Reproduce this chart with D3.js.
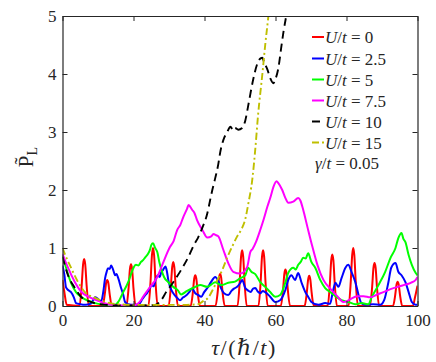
<!DOCTYPE html>
<html><head><meta charset="utf-8">
<script src="https://cdn.jsdelivr.net/npm/d3@7"></script>
<style>
body{margin:0;background:#fff}
svg{display:block}
svg text{font-family:"Liberation Serif","DejaVu Serif","Times New Roman",Times,serif !important;fill:#262626}
</style>
</head><body>
<svg id="c" width="436" height="362"></svg>
<script>
const xTicks = [0, 20, 40, 60, 80, 100];
const yTicks = [0, 1, 2, 3, 4, 5];
const legendValues = ["0", "2.5", "5", "7.5", "10", "15"];
const gammaLabel = "0.05";

// U/t = 0 (red)
const red = [[0,0.45],[0.5,0.25],[1.2,0.02],[4.8,0],[5.4,0.35],[5.8,0.72],[6.1,0.81],[6.4,0.72],[6.8,0.35],[7.4,0],
[11.3,0],[11.9,0.2],[12.3,0.4],[12.6,0.45],[12.9,0.4],[13.3,0.2],[13.9,0],
[18.0,0],[18.6,0.3],[19.0,0.64],[19.3,0.72],[19.6,0.64],[20.0,0.3],[20.6,0],
[24.2,0],[24.8,0.42],[25.2,0.88],[25.5,1.0],[25.8,0.88],[26.2,0.42],[26.8,0],
[29.9,0],[30.5,0.32],[30.9,0.67],[31.2,0.76],[31.5,0.67],[31.9,0.32],[32.5,0],
[36.1,0],[36.7,0.22],[37.1,0.47],[37.4,0.53],[37.7,0.47],[38.1,0.22],[38.7,0],
[43.1,0],[43.7,0.23],[44.1,0.49],[44.4,0.55],[44.7,0.49],[45.1,0.23],[45.7,0],
[49.3,0],[49.9,0.4],[50.3,0.85],[50.6,0.96],[50.9,0.85],[51.3,0.4],[51.9,0],
[55.2,0],[55.8,0.4],[56.2,0.85],[56.5,0.96],[56.8,0.85],[57.2,0.4],[57.8,0],
[61.5,0],[62.1,0.26],[62.5,0.56],[62.8,0.63],[63.1,0.56],[63.5,0.26],[64.1,0],
[68.2,0],[68.8,0.22],[69.2,0.46],[69.5,0.52],[69.8,0.46],[70.2,0.22],[70.8,0],
[74.7,0],[75.3,0.37],[75.7,0.79],[76.0,0.89],[76.3,0.79],[76.7,0.37],[77.3,0],
[80.6,0],[81.2,0.42],[81.6,0.88],[81.9,1.0],[82.2,0.88],[82.6,0.42],[83.2,0],
[86.6,0],[87.2,0.31],[87.6,0.66],[87.9,0.74],[88.2,0.66],[88.6,0.31],[89.2,0],
[93.1,0],[93.7,0.18],[94.1,0.37],[94.4,0.42],[94.7,0.37],[95.1,0.18],[95.7,0],
[98.7,0],[99.3,0.15],[100,0.35]];

// U/t = 2.5 (blue)
const blue = [[0,0.7],[0.5,0.55],[1.0,0.32],[1.7,0.27],[2.4,0.24],[3.2,0.15],[3.8,0.05],[5,0.03],[6.5,0.02],[8,0.04],[9.2,0.15],[10,0.12],[10.9,0.08],
[11.5,0.25],[12,0.48],[12.4,0.58],[12.8,0.65],[13.3,0.64],[13.7,0.7],[14.3,0.62],[14.8,0.53],[15.2,0.55],[15.7,0.48],[16.5,0.31],[17.1,0.2],[17.6,0.07],[18.5,0.03],[20,0.02],[21.5,0.03],
[22.5,0.12],[23.2,0.18],[23.8,0.22],[24.5,0.3],[25.2,0.36],[25.7,0.34],[26.2,0.45],[26.9,0.53],[27.4,0.5],[27.8,0.58],[28.3,0.62],[29.0,0.68],[29.4,0.6],[29.8,0.45],[30.3,0.33],
[31.2,0.22],[32.3,0.14],[33.1,0.1],[34.0,0.15],[34.8,0.18],[35.7,0.24],[36.5,0.3],[37.4,0.22],[38.2,0.19],[39.1,0.16],[39.9,0.24],[40.8,0.31],
[41.9,0.42],[43.0,0.5],[43.9,0.43],[44.7,0.3],[45.5,0.22],[46.7,0.19],[47.6,0.26],[48.3,0.3],[49.2,0.33],[50.1,0.4],[50.6,0.45],[51.5,0.31],
[52.2,0.27],[53.0,0.24],[53.7,0.3],[54.3,0.31],[55.0,0.25],[55.7,0.22],[56.4,0.26],[57.1,0.24],[58.5,0.16],[59.9,0.07],[61.3,0.1],[62.8,0.28],[63.6,0.45],[64.5,0.53],[65.5,0.45],[66.4,0.57],
[67.3,0.41],[68.4,0.24],[69.2,0.16],[70.1,0.07],[72.1,0.02],[74.0,0.05],[75.4,0.04],[76.0,0.2],[76.9,0.4],[77.7,0.33],[78.6,0.48],[79.7,0.66],
[80.5,0.71],[81.4,0.59],[82.5,0.41],[83.4,0.19],[84.2,0.05],[85.5,0.02],[87.5,0.03],[89.5,0.02],[90.6,0.1],[91.8,0.41],[92.6,0.66],[93.8,0.74],
[94.6,0.59],[95.5,0.53],[96.6,0.41],[97.5,0.24],[98.4,0.07],[99.5,0.02],[100,0.02]];

// U/t = 5 (green)
const green = [[0,0.88],[1.0,0.66],[2.4,0.4],[3.8,0.24],[5.2,0.16],[7.2,0.09],[9.2,0.05],[12,0.02],[14.8,0.02],[15.7,0.07],[17.1,0.24],[18.5,0.41],
[19.3,0.55],[20.0,0.66],[20.7,0.71],[21.4,0.7],[22.1,0.76],[22.7,0.79],[23.3,0.84],[24.1,0.9],[24.7,0.98],[25.0,1.05],[25.5,1.08],[26.1,1.0],[26.7,0.93],[27.3,0.75],[28.0,0.6],
[28.6,0.5],[29.8,0.41],[31.2,0.33],[32.5,0.27],[33.4,0.2],[35.1,0.26],[36.8,0.31],[38.8,0.36],[40.8,0.33],[43.0,0.41],[44.7,0.36],[46.7,0.4],
[48.6,0.42],[50.1,0.48],[51.5,0.53],[52.3,0.66],[53.2,0.59],[54.3,0.55],[55.7,0.41],[57.1,0.33],[58.5,0.24],[59.9,0.16],[61.3,0.19],[62.8,0.41],
[63.6,0.57],[65.0,0.66],[65.7,0.63],[66.4,0.71],[67.1,0.76],[67.8,0.83],[68.5,0.82],[69.2,0.91],[70.1,0.76],[71.2,0.66],[72.6,0.45],[74.0,0.31],[75.4,0.24],[76.9,0.17],[78.6,0.1],
[80.5,0.07],[82.5,0.03],[84.2,0.05],[86.2,0.03],[87.0,0.14],[89.0,0.36],[90.9,0.59],[92.4,0.83],[93.8,1.0],[94.6,1.17],[95.5,1.26],[96.0,1.16],[96.6,1.1],
[97.5,0.88],[98.4,0.71],[99.5,0.57],[100,0.53]];

// U/t = 7.5 (magenta)
const magenta = [[0,0.9],[1.55,0.66],[3.5,0.41],[5.2,0.25],[8.0,0.14],[10.9,0.07],[13.7,0.02],[17,0.01],[20,0.01],[21.0,0.03],[22.1,0.1],[22.7,0.16],
[24.1,0.28],[24.7,0.33],[26.7,0.5],[28.3,0.74],[30.3,1.02],[31.3,1.12],[32.3,1.31],[33.2,1.4],[34.0,1.53],[35.1,1.68],[35.5,1.74],[36.0,1.71],[36.5,1.66],[37.2,1.6],[37.9,1.48],
[39.4,1.31],[40.8,1.18],[41.9,1.2],[42.5,1.24],[43.3,1.22],[43.9,1.2],[45.3,0.97],[46.7,0.74],[48.1,0.59],[50.1,0.56],[52.0,0.67],[52.9,0.93],
[53.5,0.98],[54.6,1.12],[55.7,1.31],[56.7,1.5],[57.7,1.71],[58.6,1.88],[59.4,2.05],[60.3,2.15],[60.8,2.12],[61.9,2.0],[62.8,1.86],[63.6,1.78],[65.0,1.8],[66.4,1.86],[67.0,1.82],[67.8,1.66],
[69.0,1.36],[70.4,1.02],[71.8,0.71],[73.5,0.45],[75.4,0.3],[77.4,0.17],[79.1,0.07],[80.0,0.08],[81.1,0.12],[83.1,0.17],[84.8,0.17],[86.7,0.15],
[88.7,0.2],[90.4,0.24],[92.4,0.29],[94.4,0.33],[96.1,0.36],[98.1,0.4],[99.5,0.45],[100,0.5]];

// U/t = 10 (black dashed)
const black = [[0,0.85],[1.55,0.53],[3.5,0.31],[5.2,0.16],[8.0,0.07],[12,0.02],[16,0.01],[22,0.01],[26.1,0.02],[27.8,0.1],[29.2,0.24],[31.2,0.41],
[33.4,0.62],[35.5,0.85],[37.0,1.05],[38.2,1.18],[39.4,1.35],[40.8,1.6],[41.6,1.83],[42.2,2.0],[43.0,2.2],[43.9,2.45],[44.4,2.64],[45.3,2.86],
[46.4,3.0],[47.3,3.09],[48.1,3.03],[48.6,3.07],[49.5,3.04],[50.6,3.07],[51.5,3.2],[52.3,3.45],[52.9,3.65],[53.7,3.9],[54.9,4.18],[55.8,4.27],
[56.3,4.28],[56.8,4.2],[57.7,4.08],[58.5,3.93],[59.4,3.84],[59.9,3.9],[60.8,4.1],[61.6,4.45],[62.3,4.75],[63.0,5.0],[63.6,5.3]];

// U/t = 15 (yellow dash-dot)
const yellow = [[0,1.0],[0.5,0.92],[2.4,0.66],[4.4,0.41],[6.3,0.24],[9.2,0.14],[12.0,0.07],[15.7,0.03],[20,0.02],[25,0.02],[30,0.02],[35,0.02],
[38.2,0.03],[39.5,0.08],[41.0,0.14],[42.5,0.3],[43.9,0.48],[45.0,0.62],[46.5,0.85],[48.0,1.05],[49.2,1.2],[50.4,1.32],[51.5,1.5],[52.3,1.75],
[53.5,2.2],[54.3,2.7],[55.1,3.3],[56.3,4.0],[57.1,4.5],[58.0,5.0],[58.5,5.3]];

const seriesData = [red, blue, green, magenta, black, yellow];
const colors = ["#ff0000", "#0000ff", "#00ff00", "#ff00ff", "#000000", "#bfbf00"];
const dashes = [null, null, null, null, "8,5", "7,3,2,3"];

const svg = d3.select("#c");
const L = 62.5, R = 417.5, T = 16, B = 306;
const x = d3.scaleLinear().domain([0, 100]).range([L, R]);
const y = d3.scaleLinear().domain([0, 5]).range([B, T]);
const SERIF = '"Liberation Serif","DejaVu Serif","Times New Roman",Times,serif';

svg.append("rect").attr("width", 436).attr("height", 362).attr("fill", "#fff");
svg.append("defs").append("clipPath").attr("id", "clip")
  .append("rect").attr("x", L).attr("y", T).attr("width", R - L).attr("height", B - T);

const line = d3.line().x(d => x(d[0])).y(d => y(d[1])).curve(d3.curveMonotoneX);
const g = svg.append("g").attr("clip-path", "url(#clip)");
seriesData.forEach((s, i) => {
  g.append("path").datum(s).attr("d", line).attr("fill", "none")
    .attr("stroke", colors[i]).attr("stroke-width", i >= 4 ? 1.9 : 2)
    .attr("stroke-dasharray", dashes[i]).attr("stroke-linejoin", "round");
});

function styleAxis(sel) {
  sel.attr("font-family", SERIF).attr("font-size", 17);
  sel.select(".domain").attr("stroke", "#262626").attr("stroke-width", 1.2);
  sel.selectAll(".tick line").attr("stroke", "#262626").attr("stroke-width", 1);
  sel.selectAll("text").attr("font-size", 17).attr("fill", "#262626").attr("font-family", SERIF);
}
const fmt = d3.format("d");
svg.append("g").attr("transform", `translate(0,${B})`)
  .call(d3.axisBottom(x).tickValues(xTicks).tickFormat(fmt).tickSizeInner(-5).tickSizeOuter(0).tickPadding(8))
  .call(styleAxis);
svg.append("g").attr("transform", `translate(${L},0)`)
  .call(d3.axisLeft(y).tickValues(yTicks).tickFormat(fmt).tickSizeInner(-5).tickSizeOuter(0).tickPadding(6))
  .call(styleAxis);
svg.append("g").attr("transform", `translate(0,${T})`)
  .call(d3.axisTop(x).tickValues(xTicks).tickSizeInner(-5).tickSizeOuter(0).tickFormat(""))
  .call(styleAxis);
svg.append("g").attr("transform", `translate(${R},0)`)
  .call(d3.axisRight(y).tickValues(yTicks).tickSizeInner(-5).tickSizeOuter(0).tickFormat(""))
  .call(styleAxis);

// x label
const xl = svg.append("text").attr("x", 244).attr("y", 355).attr("text-anchor", "middle")
  .attr("font-size", 22).attr("letter-spacing", 1.5);
xl.append("tspan").attr("font-style", "italic").text("τ");
xl.append("tspan").text("/(");
xl.append("tspan").attr("font-style", "italic").text("ℏ");
xl.append("tspan").text("/");
xl.append("tspan").attr("font-style", "italic").text("t");
xl.append("tspan").text(")");

// y label
const yl = svg.append("text").attr("transform", "translate(33,157) rotate(-90)")
  .attr("text-anchor", "middle").attr("font-size", 21);
yl.append("tspan").text("P\u0303");
yl.append("tspan").attr("font-size", 14).attr("dy", 4).text("L");

// legend
const rowY = [37, 58.5, 79.5, 100.5, 121.5, 142.5];
legendValues.forEach((v, i) => {
  svg.append("line").attr("x1", 312).attr("x2", 324).attr("y1", rowY[i]).attr("y2", rowY[i])
    .attr("stroke", colors[i]).attr("stroke-width", 2).attr("stroke-dasharray", dashes[i]);
  const t = svg.append("text").attr("x", 325).attr("y", rowY[i] + 6).attr("font-size", 17);
  t.append("tspan").attr("font-style", "italic").text("U");
  t.append("tspan").text("/");
  t.append("tspan").attr("font-style", "italic").text("t");
  t.append("tspan").text(" = " + v);
});
const gt = svg.append("text").attr("x", 315).attr("y", 169).attr("font-size", 17);
gt.append("tspan").attr("font-style", "italic").text("γ");
gt.append("tspan").text("/");
gt.append("tspan").attr("font-style", "italic").text("t");
gt.append("tspan").text(" = " + gammaLabel);
</script>
</body></html>
